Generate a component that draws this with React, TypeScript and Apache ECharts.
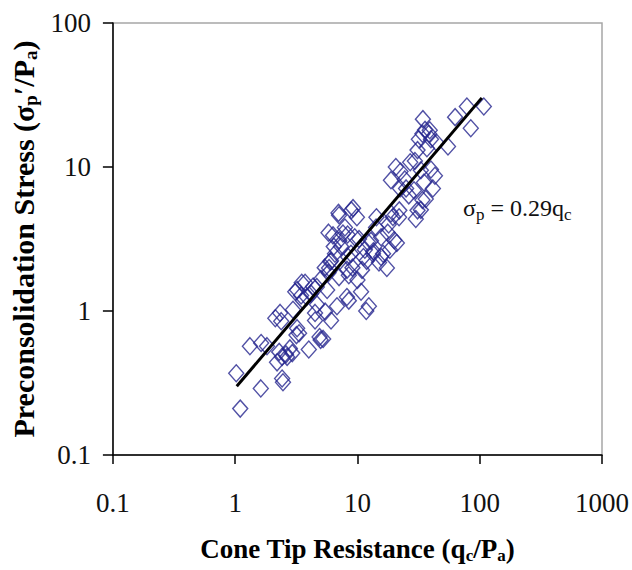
import React, { useEffect, useRef } from "react";
import * as echarts from "echarts";

// Cone tip resistance qc/Pa (x) and preconsolidation stress σp'/Pa (y)
const qcValues = [
  1.02, 1.1, 1.32, 1.62, 1.63, 1.82, 2.13, 2.2, 2.33, 2.38, 2.42, 2.42, 2.29, 2.46, 2.6, 2.66, 2.8, 2.93, 2.97, 3.1,
  3.17, 3.21, 3.33, 3.21, 3.46, 3.5, 3.59, 3.73, 3.85, 4.0, 4.17, 4.34, 4.5, 4.5, 4.65, 4.67, 4.9, 5.0, 5.04, 5.24,
  5.4, 5.44, 5.65, 5.8, 5.8, 5.86, 6.0, 6.08, 6.08, 6.31, 6.4, 6.55, 6.8, 7.0, 7.07, 7.07, 7.1, 7.34, 7.61, 7.9,
  8.2, 8.2, 8.3, 8.4, 8.5, 8.5, 8.85, 8.9, 9.1, 9.2, 9.5, 9.9, 10.0, 10.3, 10.7, 10.9, 11.2, 11.5, 11.8, 11.9,
  12.2, 12.4, 12.9, 13.4, 13.5, 14.2, 14.3, 15.0, 15.6, 15.6, 16.2, 17.4, 17.7, 18.0, 18.4, 18.8, 18.8, 19.5, 20.0, 20.6,
  21.0, 21.9, 22.0, 22.3, 22.5, 24.4, 25.0, 26.3, 27.0, 29.0, 29.5, 30.0, 31.0, 31.0, 31.8, 33.0, 33.0, 34.0, 34.0, 34.3,
  35.0, 35.7, 36.2, 37.0, 38.4, 39.0, 39.9, 39.9, 41.4, 43.0, 44.6, 55.0, 62.9, 78.5, 84.5, 108,
];
const spValues = [
  0.37, 0.21, 0.57, 0.29, 0.6, 0.57, 0.89, 0.44, 0.97, 0.85, 0.48, 0.34, 0.52, 0.32, 0.5, 0.48, 0.55, 0.51, 1.02, 1.36,
  0.68, 0.76, 0.7, 1.4, 1.28, 1.57, 1.18, 1.57, 1.25, 0.54, 1.32, 1.48, 0.97, 0.86, 1.47, 1.11, 0.66, 0.63, 1.67, 0.64,
  2.0, 0.99, 1.4, 1.84, 3.5, 1.99, 2.2, 0.86, 2.23, 3.35, 2.8, 2.5, 1.08, 4.8, 1.72, 4.62, 3.1, 2.81, 3.45, 3.8,
  1.25, 1.93, 3.4, 2.37, 1.18, 1.77, 2.5, 5.0, 2.0, 5.18, 3.25, 4.48, 1.64, 3.16, 1.36, 1.93, 2.37, 2.66, 1.0, 2.23,
  3.0, 1.08, 3.07, 2.5, 2.6, 3.8, 4.48, 2.17, 3.25, 2.37, 2.5, 1.99, 3.5, 3.99, 2.66, 4.75, 8.1, 4.5, 3.1, 10.0,
  2.97, 4.48, 5.0, 7.1, 9.3, 8.2, 7.1, 6.35, 10.8, 6.9, 11.0, 4.35, 13.1, 5.0, 15.6, 5.04, 9.5, 17.0, 5.9, 21.5,
  7.8, 18.1, 6.0, 13.5, 17.0, 18.0, 15.6, 9.6, 7.1, 8.7, 14.7, 13.9, 22.2, 26.3, 18.6, 26.3,
];

// Fitted line σp = 0.29 qc (end points)
const fitQc = [1.03, 104];
const fitSp = [0.3, 30.2];

const xTicks = [0.1, 1, 10, 100, 1000];
const yTicks = [0.1, 1, 10, 100];

const SERIF = '"Liberation Serif", "Times New Roman", serif';

export default function App() {
  const ref = useRef<HTMLDivElement>(null);

  useEffect(() => {
    if (!ref.current) return;
    const chart = echarts.init(ref.current, undefined, { renderer: "svg" });
    const fmt = (v: number) => {
      const t = xTicks.concat(yTicks).find((k) => Math.abs(k - v) / k < 1e-6);
      return t !== undefined ? String(t) : "";
    };
    chart.setOption({
      animation: false,
      backgroundColor: "#ffffff",
      grid: {
        left: 109,
        right: 29,
        top: 23,
        bottom: 115,
        show: true,
        borderColor: "#a6a6a6",
        borderWidth: 1.5,
        backgroundColor: "transparent",
      },
      xAxis: {
        type: "log",
        logBase: 10,
        min: xTicks[0],
        max: xTicks[xTicks.length - 1],
        name: "Cone Tip Resistance (q{sub|c}/P{sub|a})",
        nameLocation: "middle",
        nameGap: 78,
        nameTextStyle: {
          fontFamily: SERIF,
          fontWeight: "bold",
          fontSize: 27,
          color: "#000",
          rich: {
            sub: { fontFamily: SERIF, fontWeight: "bold", fontSize: 17, color: "#000", padding: [14, 0, 0, 0] },
          },
        },
        axisLine: { show: true, lineStyle: { color: "#000", width: 1.5 } },
        axisTick: { show: true, inside: false, length: 9, lineStyle: { color: "#000", width: 1.5 } },
        minorTick: { show: false },
        splitLine: { show: false },
        axisLabel: {
          margin: 34,
          fontFamily: SERIF,
          fontSize: 27,
          color: "#111",
          showMinLabel: true,
          showMaxLabel: true,
          formatter: fmt,
        },
      },
      yAxis: {
        type: "log",
        logBase: 10,
        min: yTicks[0],
        max: yTicks[yTicks.length - 1],
        name: "Preconsolidation Stress (σ{sub|p}′/P{sub|a})",
        nameLocation: "middle",
        nameGap: 63,
        nameTextStyle: {
          fontFamily: SERIF,
          fontWeight: "bold",
          fontSize: 30,
          color: "#000",
          rich: {
            sub: { fontFamily: SERIF, fontWeight: "bold", fontSize: 19, color: "#000", padding: [14, 0, 0, 0] },
          },
        },
        axisLine: { show: true, lineStyle: { color: "#000", width: 1.5 } },
        axisTick: { show: true, inside: false, length: 10, lineStyle: { color: "#000", width: 1.5 } },
        minorTick: { show: false },
        splitLine: { show: false },
        axisLabel: {
          margin: 22,
          fontFamily: SERIF,
          fontSize: 27,
          color: "#111",
          showMinLabel: true,
          showMaxLabel: true,
          formatter: fmt,
        },
      },
      graphic: [
        {
          type: "text",
          left: 463,
          top: 196,
          style: {
            text: "σ{sub|p} = 0.29q{sub|c}",
            fontFamily: SERIF,
            fontSize: 24,
            fill: "#111",
            rich: {
              sub: { fontFamily: SERIF, fontSize: 17, fill: "#111", padding: [13, 0, 0, 0] },
            },
          },
        },
      ],
      series: [
        {
          type: "scatter",
          data: qcValues.map((q, i) => [q, spValues[i]]),
          symbol: "diamond",
          symbolSize: [15, 17],
          itemStyle: { color: "rgba(0,0,0,0)", borderColor: "#25258f", borderWidth: 1.4 },
          z: 2,
        },
        {
          type: "line",
          data: fitQc.map((q, i) => [q, fitSp[i]]),
          symbol: "none",
          lineStyle: { color: "#000", width: 3 },
          z: 3,
        },
      ],
    });
    return () => chart.dispose();
  }, []);

  return (
    <div
      ref={ref}
      style={{ position: "fixed", left: 0, top: 0, width: 632, height: 570 }}
    />
  );
}
